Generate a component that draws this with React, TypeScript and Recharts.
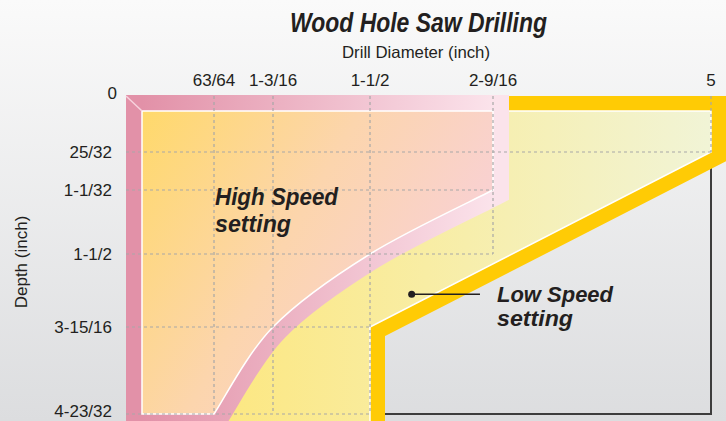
import { ComposedChart, Scatter, XAxis, YAxis } from "recharts";

// axis ticks (inch)
const diameterTicks = [0, 63 / 64, 1 + 3 / 16, 1.5, 2 + 9 / 16, 5];
const diameterLabels = ["0", "63/64", "1-3/16", "1-1/2", "2-9/16", "5"];
const depthTicks = [0, 25 / 32, 1 + 1 / 32, 1.5, 3 + 15 / 16, 4 + 23 / 32];
const depthLabels = ["0", "25/32", "1-1/32", "1-1/2", "3-15/16", "4-23/32"];

// high speed envelope, traced from the origin
const highDiameter = [0, 2 + 9 / 16, 2 + 9 / 16, 1.5, 1 + 3 / 16, 63 / 64, 0];
const highDepth = [0, 0, 1 + 1 / 32, 1.5, 3 + 15 / 16, 4 + 23 / 32, 4 + 23 / 32];

// low speed envelope (runs on below the picture)
const lowDiameter = [0, 5, 5, 1.5, 1.5, 0];
const lowDepth = [0, 0, 25 / 32, 3 + 15 / 16, 5, 5];

// outline of the full 5" x 4-23/32" range
const frameDiameter = [5, 5, 1.5];
const frameDepth = [0, 4 + 23 / 32, 4 + 23 / 32];

// how far each grid line runs
const gridColDepth = [4 + 23 / 32, 4 + 23 / 32, 4 + 23 / 32, 1.5, 25 / 32];
const gridRowDiameter = [5, 2 + 9 / 16, 2 + 9 / 16, 1.5, 1.5];

// leader for the low speed label
const calloutDiameter = [1.86, 2.45];
const calloutDepth = [2.84, 2.84];

// the drawing is not to scale: where each tick sits along its axis
const xTickPos = [0, 72, 131, 228, 351, 569];
const yTickPos = [0, 41, 79, 143, 216, 303];

const FONT = '"Liberation Sans", Arial, Helvetica, sans-serif';
const INK = "#231f20";

function place(v: number, ticks: number[], pos: number[]) {
  let i = 0;
  while (i < ticks.length - 2 && v > ticks[i + 1]) i++;
  const t = (v - ticks[i]) / (ticks[i + 1] - ticks[i]);
  return pos[i] + t * (pos[i + 1] - pos[i]);
}
const gx = (d: number) => place(d, diameterTicks, xTickPos);
const gy = (d: number) => place(d, depthTicks, yTickPos);
const toPoints = (xs: number[], ys: number[]) =>
  xs.map((x, i) => ({ x: gx(x), y: gy(ys[i]) }));

const highData = toPoints(highDiameter, highDepth);
const lowData = toPoints(lowDiameter, lowDepth);
const frameData = toPoints(frameDiameter, frameDepth);
const calloutData = toPoints(calloutDiameter, calloutDepth).map((p, i) => ({ ...p, dot: i === 0 }));
const gridData = [
  ...diameterTicks.slice(1).flatMap((d, i) => [
    { x: gx(d), y: gy(0) },
    { x: gx(d), y: gy(gridColDepth[i]) },
  ]),
  ...depthTicks.slice(1).flatMap((d, i) => [
    { x: gx(0), y: gy(d) },
    { x: gx(gridRowDiameter[i]), y: gy(d) },
  ]),
];

type Pt = { x: number; y: number };

// straight polygon, with a smooth run between curveFrom and curveTo
function pathOf(pts: Pt[], curveFrom = -1, curveTo = -1) {
  let d = `M${pts[0].x},${pts[0].y}`;
  for (let i = 1; i < pts.length; i++) {
    const p2 = pts[i];
    if (i > curveFrom && i <= curveTo) {
      const p0 = pts[Math.max(i - 2, curveFrom)];
      const p1 = pts[i - 1];
      const p3 = pts[Math.min(i + 1, curveTo)];
      const c1x = p1.x + (p2.x - p0.x) / 6;
      const c1y = p1.y + (p2.y - p0.y) / 6;
      const c2x = p2.x - (p3.x - p1.x) / 6;
      const c2y = p2.y - (p3.y - p1.y) / 6;
      d += ` C${c1x},${c1y} ${c2x},${c2y} ${p2.x},${p2.y}`;
    } else {
      d += ` L${p2.x},${p2.y}`;
    }
  }
  return d + " Z";
}

const LowRegion = ({ points }: { points: Pt[] }) => {
  const d = pathOf(points);
  return (
    <g>
      <defs>
        <linearGradient id="lowFill" x1="0" y1="0" x2="1" y2="0">
          <stop offset="0" stopColor="#fee574" />
          <stop offset="0.5" stopColor="#f8eda4" />
          <stop offset="1" stopColor="#f1f4d6" />
        </linearGradient>
      </defs>
      <path d={d} fill="#ffcb05" stroke="#ffcb05" strokeWidth={30} strokeLinejoin="miter" strokeMiterlimit={10} />
      <path d={d} fill="url(#lowFill)" />
      <path d={d} fill="none" stroke="#ffffff" strokeWidth={1.5} />
    </g>
  );
};

const HighRegion = ({ points }: { points: Pt[] }) => {
  const d = pathOf(points, 2, 5);
  const o = points[0];
  return (
    <g>
      <defs>
        <linearGradient id="highFill" x1="0" y1="0" x2="1" y2="0.5">
          <stop offset="0" stopColor="#ffd96b" />
          <stop offset="0.5" stopColor="#fcd5ad" />
          <stop offset="1" stopColor="#f8d0da" />
        </linearGradient>
        <linearGradient id="highEdge" x1="0" y1="0" x2="1" y2="0">
          <stop offset="0" stopColor="#e291a8" />
          <stop offset="1" stopColor="#fbe3eb" />
        </linearGradient>
      </defs>
      <path d={d} fill="#e8a5b9" stroke="url(#highEdge)" strokeWidth={32} strokeLinejoin="miter" strokeMiterlimit={10} />
      <path d={d} fill="url(#highFill)" />
      <path d={d} fill="none" stroke="#ffffff" strokeWidth={1.5} />
      <line x1={o.x - 16} y1={o.y - 15} x2={o.x} y2={o.y} stroke="#f7d3de" strokeWidth={1.5} />
    </g>
  );
};

const Frame = ({ points }: { points: Pt[] }) => (
  <polyline
    points={points.map((p) => `${p.x},${p.y}`).join(" ")}
    fill="none"
    stroke="#3d3d3d"
    strokeWidth={2}
  />
);

const Grid = ({ points }: { points: Pt[] }) => {
  const segs = [];
  for (let i = 0; i + 1 < points.length; i += 2) {
    const a = points[i];
    const b = points[i + 1];
    const vertical = Math.abs(a.x - b.x) < 0.5;
    segs.push(
      <line
        key={i}
        x1={vertical ? a.x : a.x - 16}
        y1={vertical ? a.y - 15 : a.y}
        x2={b.x}
        y2={b.y}
        stroke="#a7a7a7"
        strokeWidth={1.2}
        strokeDasharray="3 3"
      />
    );
  }
  return <g>{segs}</g>;
};

const XTick = (props: any) => {
  const i = xTickPos.indexOf(props.payload.value);
  return (
    <text x={props.x} y={props.y - 10} textAnchor="middle" fontSize={17} fontFamily={FONT} fill={INK}>
      {diameterLabels[i]}
    </text>
  );
};

const YTick = (props: any) => {
  const i = yTickPos.indexOf(props.payload.value);
  const origin = i === 0;
  const last = i === yTickPos.length - 1;
  return (
    <text
      x={props.x - (origin ? 9 : 14)}
      y={props.y + (origin ? -12 : last ? 3 : 6)}
      textAnchor="end"
      fontSize={17}
      fontFamily={FONT}
      fill={INK}
    >
      {depthLabels[i]}
    </text>
  );
};

const noShape = () => <g />;

export default function WoodHoleSawChart() {
  return (
    <div
      style={{
        position: "absolute",
        left: 0,
        top: 0,
        width: 726,
        height: 421,
        overflow: "hidden",
        background: "linear-gradient(180deg, #fafafa 0%, #dcdddf 100%)",
      }}
    >
      <ComposedChart width={726} height={451} margin={{ top: 0, right: 0, bottom: 0, left: 0 }}>
        <XAxis
          type="number"
          dataKey="x"
          orientation="top"
          domain={[-16, 584]}
          ticks={xTickPos.slice(1)}
          interval={0}
          height={96}
          axisLine={false}
          tickLine={false}
          tickSize={0}
          tickMargin={0}
          tick={XTick}
        />
        <YAxis
          type="number"
          dataKey="y"
          domain={[-15, 340]}
          reversed
          ticks={yTickPos}
          interval={0}
          width={126}
          axisLine={false}
          tickLine={false}
          tickSize={0}
          tickMargin={0}
          tick={YTick}
        />
        <Scatter data={frameData} shape={noShape} line={(p: any) => <Frame points={p.points} />} isAnimationActive={false} />
        <Scatter data={lowData} shape={noShape} line={(p: any) => <LowRegion points={p.points} />} isAnimationActive={false} />
        <Scatter data={highData} shape={noShape} line={(p: any) => <HighRegion points={p.points} />} isAnimationActive={false} />
        <Scatter data={gridData} shape={noShape} line={(p: any) => <Grid points={p.points} />} isAnimationActive={false} />
        <Scatter
          data={calloutData}
          shape={(p: any) => (p.payload && p.payload.dot ? <circle cx={p.cx} cy={p.cy} r={3.5} fill={INK} /> : <g />)}
          line={{ stroke: INK, strokeWidth: 1.5 }}
          isAnimationActive={false}
        />
      </ComposedChart>
      <svg
        width={726}
        height={421}
        style={{ position: "absolute", left: 0, top: 0, pointerEvents: "none" }}
        fontFamily={FONT}
        fill={INK}
      >
        <text x={290} y={32} fontSize={27} fontWeight={700} fontStyle="italic" textLength={257} lengthAdjust="spacingAndGlyphs">
          Wood Hole Saw Drilling
        </text>
        <text x={342} y={58} fontSize={16.5} textLength={148} lengthAdjust="spacingAndGlyphs">
          Drill Diameter (inch)
        </text>
        <text
          x={21}
          y={262}
          fontSize={17}
          textAnchor="middle"
          dominantBaseline="central"
          transform="rotate(-90 21 262)"
        >
          Depth (inch)
        </text>
        <g fontWeight={700} fontStyle="italic">
          <text x={215} y={205} fontSize={24} textLength={123} lengthAdjust="spacingAndGlyphs">High Speed</text>
          <text x={215} y={232} fontSize={24} textLength={76} lengthAdjust="spacingAndGlyphs">setting</text>
          <text x={497} y={302} fontSize={22} textLength={116} lengthAdjust="spacingAndGlyphs">Low Speed</text>
          <text x={497} y={326} fontSize={22} textLength={76} lengthAdjust="spacingAndGlyphs">setting</text>
        </g>
      </svg>
    </div>
  );
}
